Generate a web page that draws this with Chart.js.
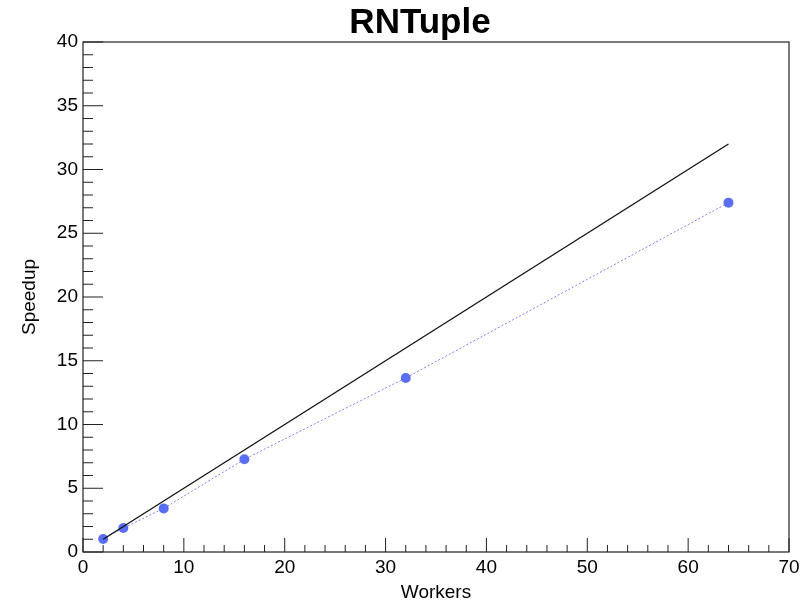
<!DOCTYPE html>
<html>
<head>
<meta charset="utf-8">
<script src="https://cdn.jsdelivr.net/npm/chart.js@4.4.1/dist/chart.umd.min.js"></script>
<style>
    html, body { margin: 0; padding: 0; background: #fff; }
    #wrap { width: 810px; height: 604px; }
</style>
</head>
<body>
<div id="wrap"><canvas id="speedupChart" width="810" height="604"></canvas></div>
<script>
// Данные: число воркеров и измеренное ускорение
const workers = [2, 4, 8, 16, 32, 64];
const speedup = [1.02, 1.88, 3.42, 7.27, 13.65, 27.4];

// Идеальная линия (workers / 2)
const idealWorkers = [2, 64];
const idealSpeedup = [1, 32];

// Шкалы
const xRange = [0, 70];
const yRange = [0, 40];
const xMajorStep = 10, xMinorStep = 2;
const yMajorStep = 5, yMinorStep = 1;

const FONT = '"Liberation Sans", Arial, Helvetica, sans-serif';

// Рамка и засечки внутрь, как в ROOT
const rootFrame = {
    id: 'rootFrame',
    afterDatasetsDraw(chart) {
        const { ctx, chartArea: a, scales } = chart;
        ctx.save();
        ctx.strokeStyle = '#222';
        ctx.lineWidth = 1.2;
        ctx.strokeRect(a.left, a.top, a.right - a.left, a.bottom - a.top);

        ctx.lineWidth = 1;
        ctx.beginPath();
        // X засечки
        for (let v = xRange[0]; v <= xRange[1]; v += xMinorStep) {
            const px = scales.x.getPixelForValue(v);
            const len = v % xMajorStep === 0 ? 14 : 7;
            ctx.moveTo(px, a.bottom);
            ctx.lineTo(px, a.bottom - len);
        }
        // Y засечки
        for (let v = yRange[0]; v <= yRange[1]; v += yMinorStep) {
            const py = scales.y.getPixelForValue(v);
            const len = v % yMajorStep === 0 ? 20 : 10;
            ctx.moveTo(a.left, py);
            ctx.lineTo(a.left + len, py);
        }
        ctx.stroke();
        ctx.restore();
    }
};

new Chart(document.getElementById('speedupChart'), {
    type: 'scatter',
    data: {
        datasets: [
            {
                label: 'ideal',
                data: idealWorkers.map((w, i) => ({ x: w, y: idealSpeedup[i] })),
                showLine: true,
                borderColor: '#111',
                borderWidth: 1.3,
                pointRadius: 0
            },
            {
                label: 'RNTuple',
                data: workers.map((w, i) => ({ x: w, y: speedup[i] })),
                showLine: true,
                borderColor: '#7f7ff0',
                borderWidth: 1,
                borderDash: [2, 2],
                pointRadius: 5,
                pointBackgroundColor: '#5a6ef2',
                pointBorderWidth: 0
            }
        ]
    },
    options: {
        responsive: false,
        animation: false,
        // слева отступ 51, чтобы заголовок был по центру как в оригинале
        layout: { padding: { top: 0, right: 21, bottom: 0, left: 51 } },
        plugins: {
            legend: { display: false },
            tooltip: { enabled: false },
            title: {
                display: true,
                text: 'RNTuple',
                color: '#000',
                font: { family: FONT, size: 35, weight: 'bold', lineHeight: '38px' },
                padding: { top: 4, bottom: 0 }
            }
        },
        scales: {
            x: {
                type: 'linear',
                min: xRange[0],
                max: xRange[1],
                grid: { display: false, drawTicks: false },
                border: { display: false },
                ticks: {
                    stepSize: xMajorStep,
                    color: '#000',
                    padding: 4,
                    font: { family: FONT, size: 19 }
                },
                title: {
                    display: true,
                    text: 'Workers',
                    color: '#000',
                    font: { family: FONT, size: 19 },
                    padding: 0
                },
                afterFit(scale) { scale.height = 52; }
            },
            y: {
                type: 'linear',
                min: yRange[0],
                max: yRange[1],
                grid: { display: false, drawTicks: false },
                border: { display: false },
                ticks: {
                    stepSize: yMajorStep,
                    color: '#000',
                    padding: 5,
                    font: { family: FONT, size: 19 }
                },
                title: {
                    display: true,
                    text: 'Speedup',
                    color: '#000',
                    font: { family: FONT, size: 19 },
                    padding: { top: -32.4, bottom: 0 }
                },
                afterFit(scale) { scale.width = 32; }
            }
        }
    },
    plugins: [rootFrame]
});
</script>
</body>
</html>
